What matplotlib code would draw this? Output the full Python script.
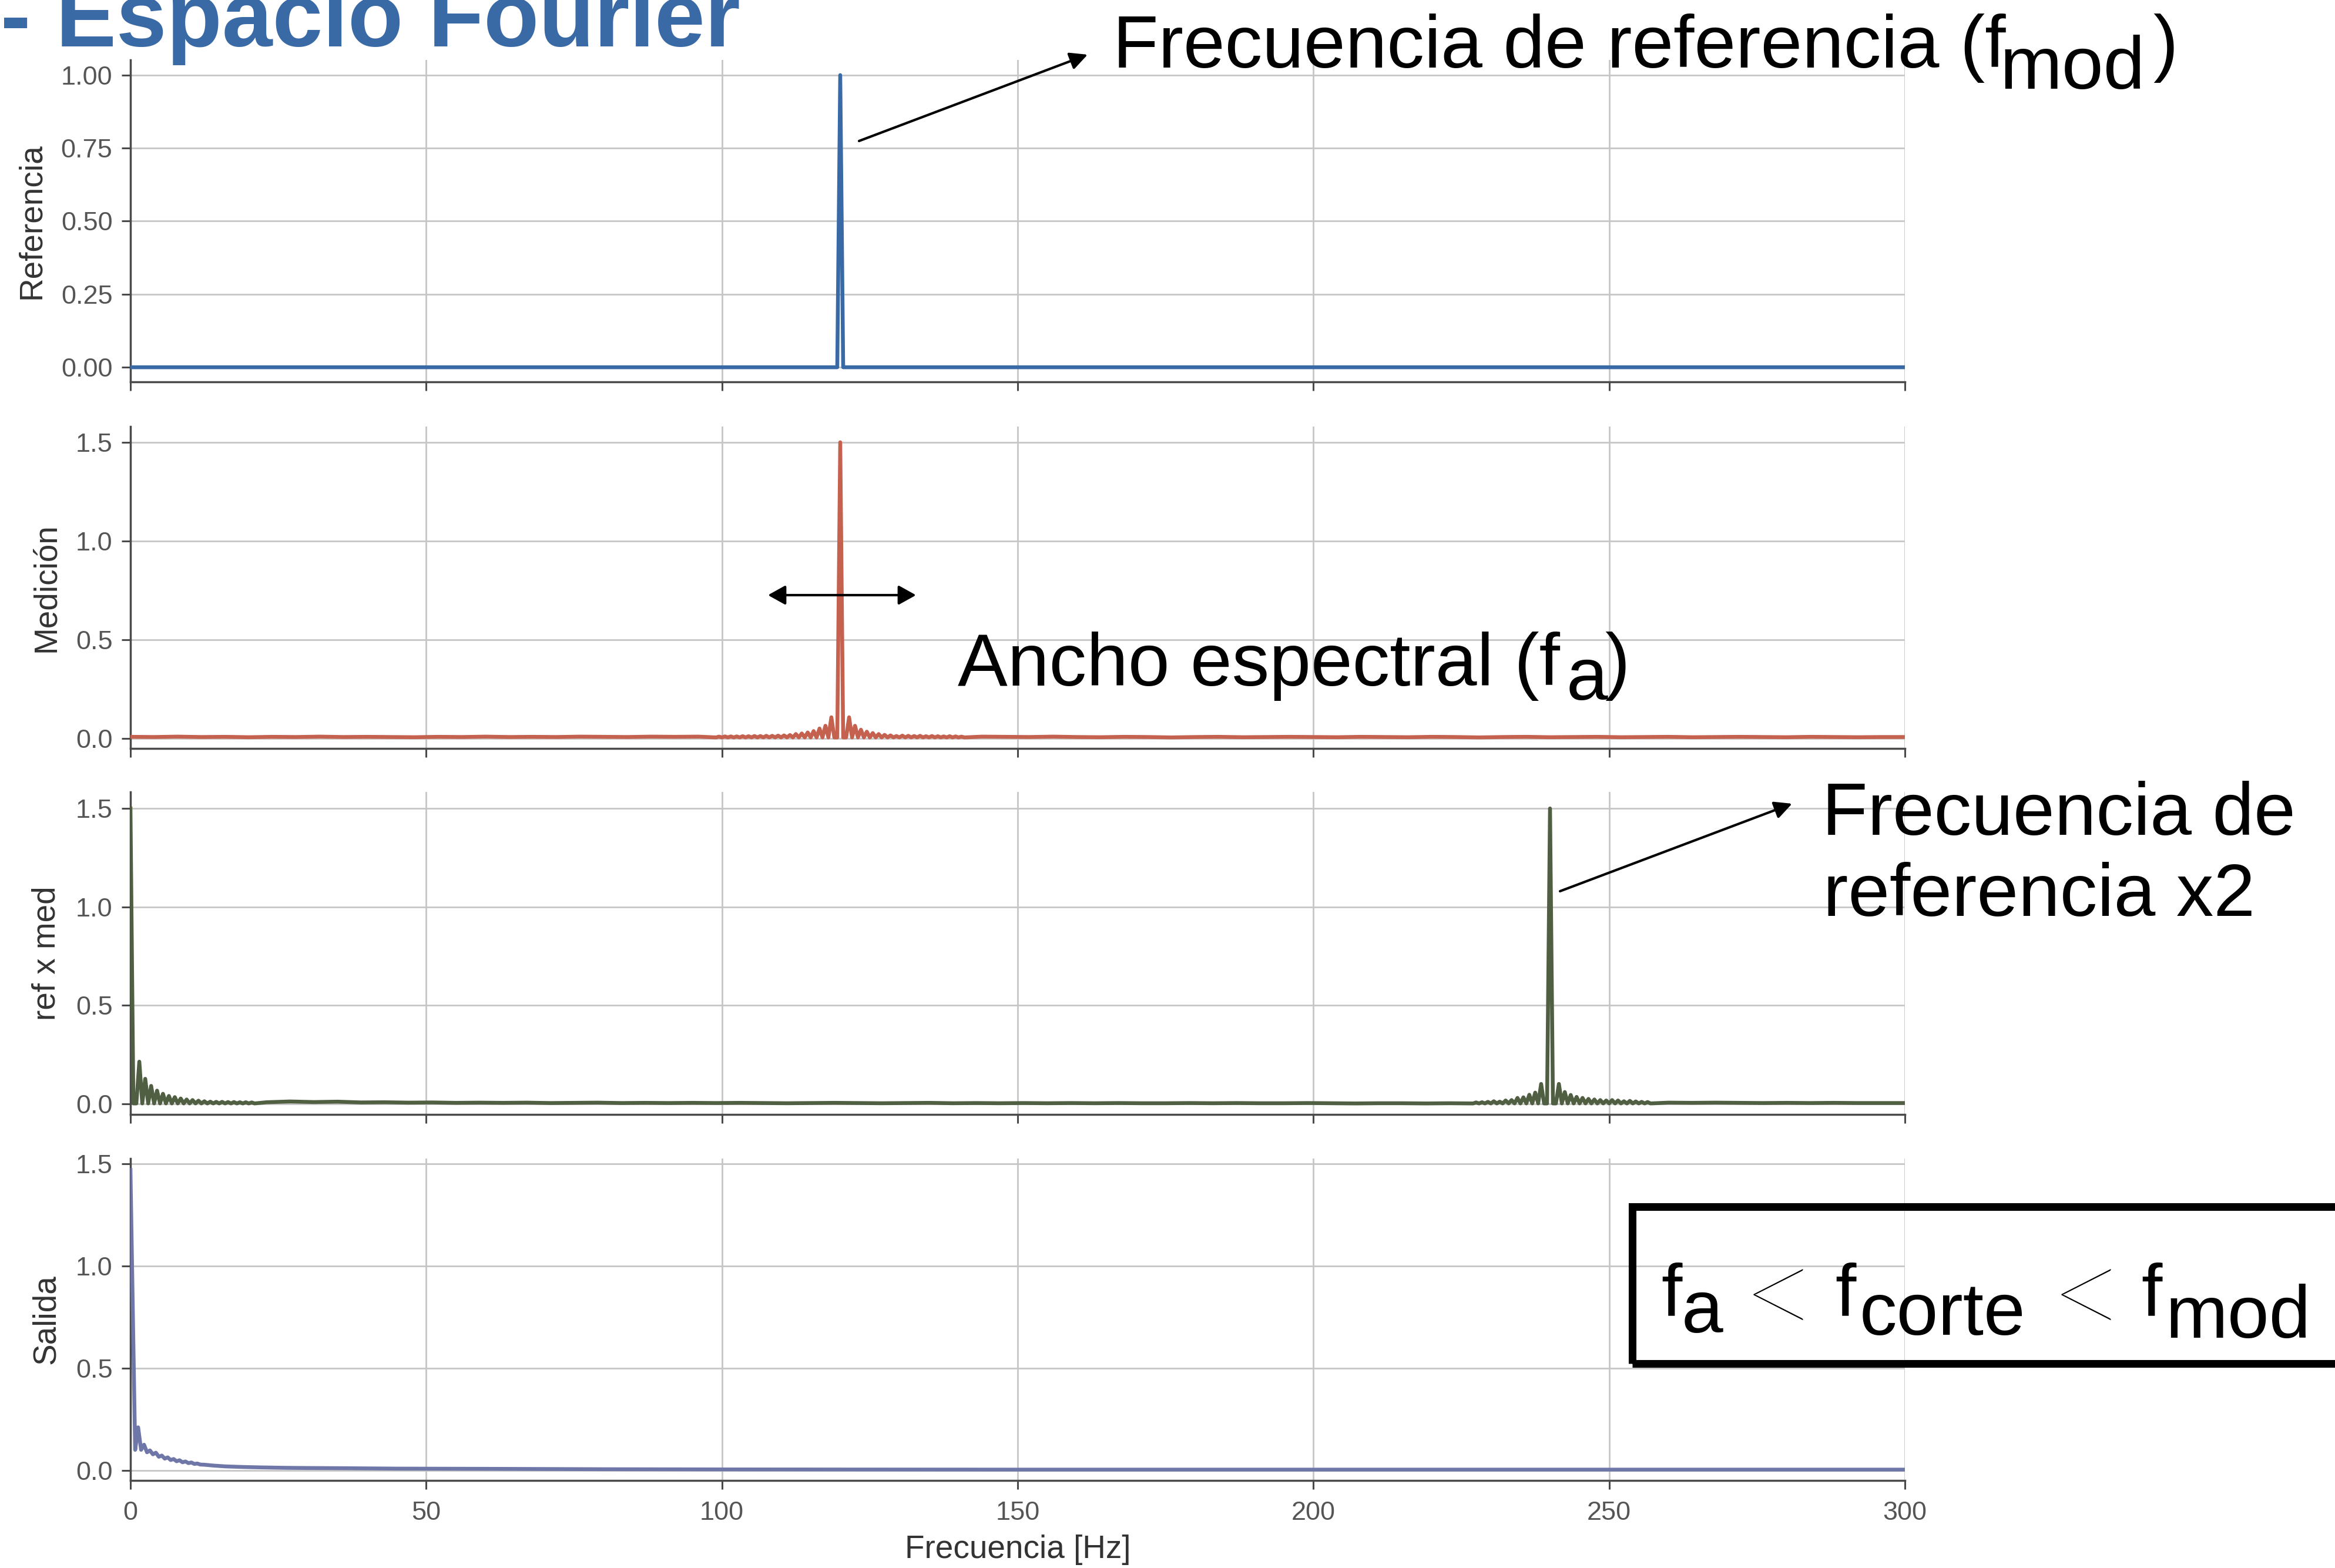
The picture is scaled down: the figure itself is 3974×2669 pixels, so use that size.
import numpy as np
import matplotlib
matplotlib.use("Agg")
import matplotlib.pyplot as plt
from matplotlib.patches import FancyArrowPatch, Rectangle, ArrowStyle

# ------------------------------------------------------------------ data
freq_ticks = [0, 50, 100, 150, 200, 250, 300]
ref_yticks = [0.0, 0.25, 0.50, 0.75, 1.00]
ref_yticklabels = ["0.00", "0.25", "0.50", "0.75", "1.00"]
amp_yticks = [0.0, 0.5, 1.0, 1.5]
amp_yticklabels = ["0.0", "0.5", "1.0", "1.5"]
panel_labels = ["Referencia", "Medición", "ref x med", "Salida"]
xlabel = "Frecuencia [Hz]"

# Referencia: single line at 120 Hz
ref_f = [0.0, 119.5, 120.0, 120.5, 300.0]
ref_v = [0.0, 0.0, 1.0, 0.0, 0.0]

# Medición: peak at 120 Hz with side lobes and noise floor
med_peak_f = 120.0
med_peak_v = 1.5
med_lobes_left = [0.106, 0.063, 0.049, 0.036, 0.029, 0.024, 0.021, 0.016, 0.014, 0.013,
                  0.012, 0.012, 0.011, 0.011, 0.010, 0.010, 0.009, 0.009, 0.009, 0.008]
med_lobes_right = [0.106, 0.063, 0.043, 0.033, 0.026, 0.021, 0.017, 0.014, 0.011, 0.013,
                   0.012, 0.011, 0.012, 0.010, 0.011, 0.010, 0.009, 0.010, 0.009, 0.008]
med_trough = 0.004
med_floor_left_f = [0, 4, 8, 12, 16, 20, 24, 28, 32, 36, 40, 44, 48, 52, 56, 60, 64, 68,
                    72, 76, 80, 84, 88, 92, 96]
med_floor_left_v = [0.007, 0.006, 0.008, 0.006, 0.007, 0.005, 0.007, 0.006, 0.008, 0.006,
                    0.007, 0.006, 0.005, 0.007, 0.006, 0.008, 0.006, 0.007, 0.006, 0.008,
                    0.007, 0.006, 0.008, 0.007, 0.008]
med_floor_right_f = [144, 148, 152, 156, 160, 164, 168, 172, 176, 180, 184, 188, 192, 196,
                     200, 204, 208, 212, 216, 220, 224, 228, 232, 236, 240, 244, 248, 252,
                     256, 260, 264, 268, 272, 276, 280, 284, 288, 292, 296, 300]
med_floor_right_v = [0.008, 0.007, 0.006, 0.008, 0.006, 0.005, 0.007, 0.006, 0.004, 0.006,
                     0.007, 0.005, 0.006, 0.007, 0.006, 0.005, 0.007, 0.006, 0.005, 0.007,
                     0.006, 0.004, 0.006, 0.007, 0.005, 0.006, 0.007, 0.005, 0.006, 0.007,
                     0.005, 0.006, 0.007, 0.006, 0.005, 0.007, 0.006, 0.005, 0.006, 0.006]

# ref x med: peaks at 0 Hz and 240 Hz
rxm_peak0_v = 1.5
rxm_lobes0_right = [0.214, 0.127, 0.091, 0.067, 0.051, 0.040, 0.034, 0.027, 0.022, 0.019,
                    0.016, 0.013, 0.011, 0.010, 0.010, 0.009, 0.009, 0.008, 0.008, 0.007]
rxm_peak2_f = 240.0
rxm_peak2_v = 1.5
rxm_lobes2_left = [0.101, 0.057, 0.046, 0.033, 0.030, 0.019, 0.017, 0.011, 0.013, 0.010,
                   0.008, 0.007]
rxm_lobes2_right = [0.101, 0.060, 0.045, 0.035, 0.030, 0.025, 0.022, 0.019, 0.017, 0.019,
                    0.017, 0.013, 0.015, 0.012, 0.010, 0.009]
rxm_trough = 0.002
rxm_floor_f = [23, 27, 31, 35, 39, 43, 47, 51, 55, 59, 63, 67, 71, 75, 79, 83, 87, 91, 95,
               99, 103, 107, 111, 115, 119, 123, 127, 131, 135, 139, 143, 147, 151, 155,
               159, 163, 167, 171, 175, 179, 183, 187, 191, 195, 199, 203, 207, 211, 215,
               219, 223, 260, 264, 268, 272, 276, 280, 284, 288, 292, 296, 300]
rxm_floor_v = [0.008, 0.012, 0.009, 0.011, 0.007, 0.008, 0.006, 0.007, 0.005, 0.006, 0.005,
               0.006, 0.004, 0.005, 0.006, 0.004, 0.005, 0.004, 0.005, 0.004, 0.005, 0.004,
               0.003, 0.004, 0.005, 0.004, 0.003, 0.004, 0.005, 0.003, 0.004, 0.003, 0.004,
               0.003, 0.004, 0.003, 0.004, 0.003, 0.003, 0.004, 0.003, 0.004, 0.003, 0.003,
               0.004, 0.003, 0.002, 0.003, 0.003, 0.002, 0.003, 0.006, 0.005, 0.006, 0.005,
               0.004, 0.005, 0.004, 0.005, 0.004, 0.004, 0.004]

# Salida: low-pass output
sal_f = [0.0, 0.8, 1.3, 1.8, 2.3, 2.8, 3.3, 3.8, 4.3, 4.8, 5.3, 5.8, 6.3, 6.8, 7.3, 7.8,
         8.3, 8.8, 9.3, 9.8, 10.3, 10.8, 11.3, 11.8, 12.5, 14.0, 16.0, 19.0, 22.0, 26.0,
         30.0, 36.0, 45.0, 60.0, 80.0, 100.0, 150.0, 200.0, 250.0, 300.0]
sal_v = [1.47, 0.100, 0.210, 0.100, 0.125, 0.088, 0.097, 0.078, 0.086, 0.066, 0.072, 0.057,
         0.063, 0.050, 0.055, 0.044, 0.049, 0.039, 0.043, 0.035, 0.038, 0.031, 0.033, 0.028,
         0.027, 0.023, 0.019, 0.016, 0.014, 0.012, 0.011, 0.010, 0.008, 0.007, 0.005, 0.004,
         0.003, 0.003, 0.003, 0.003]

colors = ["#3a6aa6", "#c5614f", "#505e42", "#6f77a8"]
title_color = "#3a6aa6"


def assemble(points):
    pts = sorted(points, key=lambda p: p[0])
    return [p[0] for p in pts], [p[1] for p in pts]


def lobes(center, heights, trough, side):
    pts = [(center + side * 0.5, trough)]
    for i, h in enumerate(heights):
        pts.append((center + side * (1.0 + i), trough))
        pts.append((center + side * (1.5 + i), h))
    pts.append((center + side * (1.0 + len(heights)), trough))
    return pts


med_pts = [(med_peak_f, med_peak_v)]
med_pts += lobes(med_peak_f, med_lobes_left, med_trough, -1)
med_pts += lobes(med_peak_f, med_lobes_right, med_trough, +1)
med_pts += list(zip(med_floor_left_f, med_floor_left_v))
med_pts += list(zip(med_floor_right_f, med_floor_right_v))
med_f, med_v = assemble(med_pts)

rxm_pts = [(0.0, rxm_peak0_v), (rxm_peak2_f, rxm_peak2_v)]
rxm_pts += lobes(0.0, rxm_lobes0_right, rxm_trough, +1)
rxm_pts += lobes(rxm_peak2_f, rxm_lobes2_left, rxm_trough, -1)
rxm_pts += lobes(rxm_peak2_f, rxm_lobes2_right, rxm_trough, +1)
rxm_pts += list(zip(rxm_floor_f, rxm_floor_v))
rxm_f, rxm_v = assemble(rxm_pts)

series = [(ref_f, ref_v), (med_f, med_v), (rxm_f, rxm_v), (sal_f, sal_v)]

# ------------------------------------------------------------------ figure
W, H = 3974, 2669
DPI = 100
plt.rcParams['font.family'] = ['Liberation Sans', 'DejaVu Sans']
fig = plt.figure(figsize=(W / DPI, H / DPI), dpi=DPI)
fig.patch.set_facecolor("white")

L, R = 222, 3242
boxes = [(102, 650), (726, 1274), (1348, 1897), (1972, 2520)]
ylims = [(-0.05, 1.052), (-0.052, 1.58), (-0.054, 1.584), (-0.050, 1.526)]

SPINE = "#4a4a4a"
TICKLAB = "#555555"
LABC = "#333333"
GRID = "#c6c6c6"

axes = []
for i, (t, b) in enumerate(boxes):
    ax = fig.add_axes([L / W, 1 - b / H, (R - L) / W, (b - t) / H])
    f, v = series[i]
    ax.plot(f, v, color=colors[i], lw=4.7, solid_joinstyle="round", zorder=3)
    ax.set_xlim(0, 300)
    ax.set_ylim(*ylims[i])
    ax.set_xticks(freq_ticks)
    if i == 0:
        ax.set_yticks(ref_yticks)
        ax.set_yticklabels(ref_yticklabels)
    else:
        ax.set_yticks(amp_yticks)
        ax.set_yticklabels(amp_yticklabels)
    if i < 3:
        ax.set_xticklabels([])
    else:
        ax.set_xticklabels([str(x) for x in freq_ticks])
        ax.set_xlabel(xlabel, fontsize=39.5, color=LABC, labelpad=12)
    ax.set_ylabel(panel_labels[i], fontsize=39.5, color=LABC, labelpad=17)
    ax.grid(True, color=GRID, lw=2.0, zorder=0)
    ax.set_axisbelow(True)
    for s in ["top", "right"]:
        ax.spines[s].set_visible(False)
    for s in ["left", "bottom"]:
        ax.spines[s].set_color(SPINE)
        ax.spines[s].set_linewidth(2.5)
    ax.tick_params(axis="both", which="major", length=11, width=2.2, color=SPINE,
                   labelsize=32.5, labelcolor=TICKLAB)
    ax.tick_params(axis="x", pad=14)
    ax.tick_params(axis="y", pad=11)
    axes.append(ax)


# ------------------------------------------------------------------ overlay text
def fx(x):
    return x / W


def fy(y):
    return 1 - y / H


def ptext(x, y, s, size=91.5, **kw):
    kw.setdefault("ha", "left")
    kw.setdefault("va", "baseline")
    return fig.text(fx(x), fy(y), s, fontsize=size, color="black", **kw)


# title
fig.text(fx(1), fy(79), "- Espacio Fourier", fontsize=111, fontweight="bold",
         color=title_color, ha="left", va="baseline")

# annotation 1
ptext(1894, 115, "Frecuencia de referencia (f")
ptext(3404, 151, "mod")
ptext(3664, 115, ")")

# annotation 2
ptext(1630, 1167, "Ancho espectral (f")
ptext(2666, 1191, "a")
ptext(2731, 1167, ")")

# annotation 3
ptext(3101, 1421, "Frecuencia de")
ptext(3103, 1559, "referencia x2")

# box text
lt_font = ["Lato", "Liberation Sans", "DejaVu Sans"]
ptext(2827, 2240, "f")
ptext(2862, 2268, "a")
ptext(3030, 2281, "<", size=166, ha="center", family=lt_font, fontweight="light")
ptext(3123, 2240, "f")
ptext(3165, 2272, "corte")
ptext(3553, 2281, "<", size=166, ha="center", family=lt_font, fontweight="light")
ptext(3644, 2240, "f")
ptext(3686, 2277, "mod")

# box
x0, x1 = 2777.5, 4200
y0, y1 = 2053.5, 2320.5
fig.add_artist(Rectangle((fx(x0), fy(y1)), (x1 - x0) / W, (y1 - y0) / H,
                         transform=fig.transFigure, fill=False, edgecolor="black",
                         lw=9.4, clip_on=False, zorder=10))

# arrows
style = ArrowStyle("-|>", head_length=0.9, head_width=0.45)
for (xa, ya), (xb, yb) in [((1462, 240), (1851, 93)), ((2655, 1517), (3050, 1368))]:
    fig.add_artist(FancyArrowPatch((fx(xa), fy(ya)), (fx(xb), fy(yb)),
                                   transform=fig.transFigure, arrowstyle=style,
                                   mutation_scale=20, lw=3.0, color="black",
                                   shrinkA=0, shrinkB=0, zorder=10))
style2 = ArrowStyle("<|-|>", head_length=0.9, head_width=0.5)
fig.add_artist(FancyArrowPatch((fx(1307), fy(1013)), (fx(1559), fy(1013)),
                               transform=fig.transFigure, arrowstyle=style2,
                               mutation_scale=20, lw=3.0, color="black",
                               shrinkA=0, shrinkB=0, zorder=10))

fig.savefig("out.png", dpi=DPI, facecolor="white")
